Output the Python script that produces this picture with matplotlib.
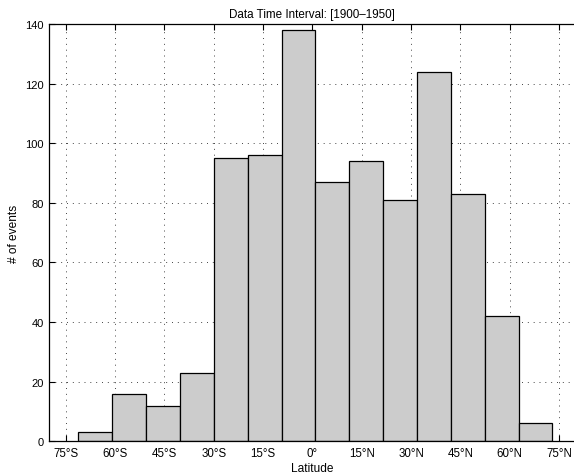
import numpy as np
import matplotlib.pyplot as plt

plt.rcParams.update({
    'font.family': ['Liberation Sans', 'DejaVu Sans'],
    'font.size': 8,
})

# event counts per latitude bin, south to north
counts = [3, 16, 12, 23, 95, 96, 138, 87, 94, 81, 124, 83, 42, 6]
lat_min, lat_max = -71.15, 72.97
edges = np.linspace(lat_min, lat_max, len(counts) + 1)

tick_pos = [-75, -60, -45, -30, -15, 0, 15, 30, 45, 60, 75]
tick_labels = ['75°S', '60°S', '45°S', '30°S', '15°S', '0°',
               '15°N', '30°N', '45°N', '60°N', '75°N']
y_ticks = [0, 20, 40, 60, 80, 100, 120, 140]

fig = plt.figure(figsize=(5.74, 4.77), dpi=100)
ax = fig.add_axes([0.0859, 0.0727, 0.9167, 0.8749])

ax.bar(edges[:-1], counts, width=np.diff(edges), align='edge',
       color='#cccccc', edgecolor='black', linewidth=0.9, zorder=2)

ax.set_xlim(-80, 80)
ax.set_ylim(0, 140)
ax.set_xticks(tick_pos)
ax.set_xticklabels(tick_labels, fontsize=8.3)
ax.set_yticks(y_ticks)

ax.grid(True, linestyle=(0, (1, 5)), color='#444444', linewidth=0.7, zorder=0)
ax.set_axisbelow(True)

ax.tick_params(direction='in', length=4, width=0.8, top=True, right=False,
               colors='black', pad=4)
for side in ['left', 'bottom', 'top']:
    ax.spines[side].set_linewidth(0.9)
ax.spines['right'].set_visible(False)

ax.set_xlabel('Latitude', fontsize=8.6, labelpad=2)
ax.set_ylabel('# of events', fontsize=8.6, labelpad=4)
ax.set_title('Data Time Interval: [1900\u20131950]', fontsize=8.4, pad=5)

fig.savefig('out.png', dpi=100)
